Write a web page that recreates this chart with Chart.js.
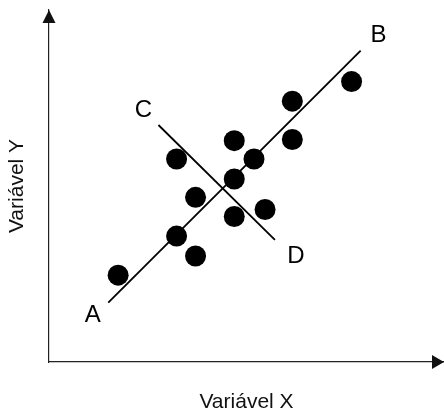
<!DOCTYPE html>
<html><head><meta charset="utf-8">
<script src="https://cdn.jsdelivr.net/npm/chart.js@4.4.1/dist/chart.umd.min.js"></script>
<style>html,body{margin:0;padding:0;background:#fff;overflow:hidden}</style>
</head><body>
<canvas id="c" width="444" height="415"></canvas>
<script>
// ---- data ----
const pointX = [1.75, 3.23, 3.71, 3.71, 3.23, 4.69, 4.69, 5.19, 4.69, 5.47, 6.16, 6.16, 7.66];
const pointY = [2.22, 3.22, 2.71, 4.21, 5.19, 5.66, 4.68, 5.19, 3.72, 3.90, 6.67, 5.69, 7.17];
const lineABX = [1.50, 7.89];
const lineABY = [1.52, 7.96];
const lineCDX = [2.77, 5.72];
const lineCDY = [6.06, 3.12];
const labelText = ['A', 'B', 'C', 'D'];
const labelX = [1.11, 8.34, 2.39, 6.25];
const labelY = [1.20, 8.36, 6.43, 2.70];
const xTitle = 'Variável X';
const yTitle = 'Variável Y';
const xRange = [0, 10];
const yRange = [0, 9];

const toXY = (xs, ys) => xs.map((x, i) => ({x: x, y: ys[i]}));
const FONT = "'Liberation Sans', Arial, sans-serif";

const decoPlugin = {
  id: 'deco',
  afterDraw(chart) {
    const {ctx, chartArea, scales} = chart;
    ctx.save();
    // arrowheads on axes
    ctx.fillStyle = '#111';
    ctx.beginPath();
    ctx.moveTo(chartArea.left, chartArea.top);
    ctx.lineTo(chartArea.left - 6.5, chartArea.top + 13);
    ctx.lineTo(chartArea.left + 6.5, chartArea.top + 13);
    ctx.closePath(); ctx.fill();
    ctx.beginPath();
    ctx.moveTo(chartArea.right, chartArea.bottom);
    ctx.lineTo(chartArea.right - 12, chartArea.bottom - 7);
    ctx.lineTo(chartArea.right - 12, chartArea.bottom + 7);
    ctx.closePath(); ctx.fill();
    // letter labels
    ctx.fillStyle = '#000';
    ctx.font = '24px ' + FONT;
    ctx.textAlign = 'center';
    ctx.textBaseline = 'middle';
    labelText.forEach((t, i) => {
      ctx.fillText(t, scales.x.getPixelForValue(labelX[i]), scales.y.getPixelForValue(labelY[i]));
    });
    ctx.restore();
  }
};

new Chart(document.getElementById('c'), {
  type: 'scatter',
  data: {
    datasets: [
      {data: toXY(lineABX, lineABY), showLine: true, borderColor: '#000', borderWidth: 1.8, pointRadius: 0, order: 2},
      {data: toXY(lineCDX, lineCDY), showLine: true, borderColor: '#000', borderWidth: 1.8, pointRadius: 0, order: 2},
      {data: toXY(pointX, pointY), backgroundColor: '#000', borderColor: '#000', borderWidth: 0, pointRadius: 10.5, order: 1}
    ]
  },
  options: {
    responsive: false,
    devicePixelRatio: 1,
    animation: false,
    layout: {padding: {left: 0, right: 0, top: 10, bottom: 0}, autoPadding: false},
    plugins: {legend: {display: false}, tooltip: {enabled: false}},
    scales: {
      x: {
        type: 'linear', min: xRange[0], max: xRange[1],
        grid: {display: false, drawTicks: false},
        border: {display: true, color: '#222', width: 1.2},
        ticks: {display: false},
        title: {display: true, text: xTitle, color: '#111', font: {family: FONT, size: 21}, padding: {top: 27.8, bottom: 0}}
      },
      y: {
        type: 'linear', min: yRange[0], max: yRange[1],
        grid: {display: false, drawTicks: false},
        border: {display: true, color: '#222', width: 1.2},
        ticks: {display: false},
        title: {display: true, text: yTitle, color: '#111', font: {family: FONT, size: 21}, padding: {top: 5, bottom: 18.8}}
      }
    }
  },
  plugins: [decoPlugin]
});
</script>
</body></html>
